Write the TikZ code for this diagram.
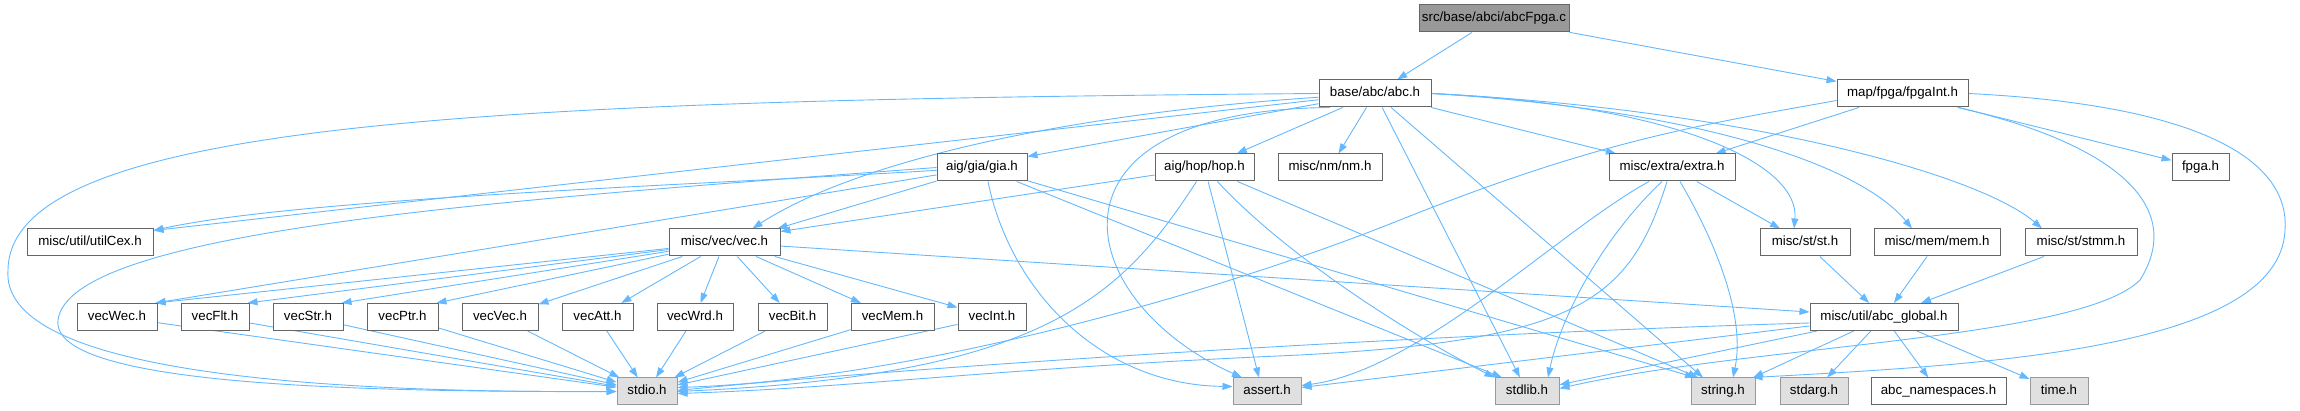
\documentclass[tikz,border=0pt]{standalone}
\usepackage{fontspec}
\setmainfont{Liberation Sans}
\usetikzlibrary{arrows.meta,backgrounds}
\definecolor{edgeblue}{HTML}{63B8FF}
\definecolor{boxline}{HTML}{666666}
\definecolor{rootfill}{HTML}{999999}
\definecolor{sysfill}{HTML}{E0E0E0}
\definecolor{sysline}{HTML}{999999}
\tikzset{
  hdr/.style={draw=boxline,fill=white,line width=1pt,minimum height=27,inner sep=0pt,
    text height=10pt,text depth=3pt,font=\fontsize{13.3}{16}\selectfont},
  syshdr/.style={hdr,draw=sysline,fill=sysfill},
  roothdr/.style={hdr,fill=rootfill},
  inc/.style={draw=edgeblue,line width=0.9pt,-{Triangle[length=10pt,width=7pt]}},
}

\begin{document}
\begin{tikzpicture}[x=1pt,y=-1pt]
\useasboundingbox (0,0) rectangle (2300,411);
% include graph of abcFpga.c, one row per rank
\node[roothdr,minimum width=150] (root) at (1494,18.5) {src/base/abci/abcFpga.c};
\node[hdr,minimum width=112] (abc) at (1375,93.5) {base/abc/abc.h};
\node[hdr,minimum width=131] (fpgaint) at (1902.5,93.5) {map/fpga/fpgaInt.h};
\node[hdr,minimum width=90] (gia) at (982,167.5) {aig/gia/gia.h};
\node[hdr,minimum width=99] (hop) at (1204.5,167.5) {aig/hop/hop.h};
\node[hdr,minimum width=104] (nm) at (1330,167.5) {misc/nm/nm.h};
\node[hdr,minimum width=126] (extra) at (1672,167.5) {misc/extra/extra.h};
\node[hdr,minimum width=57] (fpga) at (2200.5,167.5) {fpga.h};
\node[hdr,minimum width=126] (utilcex) at (90,242.5) {misc/util/utilCex.h};
\node[hdr,minimum width=111] (vec) at (724.5,242.5) {misc/vec/vec.h};
\node[hdr,minimum width=90] (st) at (1805,242.5) {misc/st/st.h};
\node[hdr,minimum width=126] (mem) at (1937,242.5) {misc/mem/mem.h};
\node[hdr,minimum width=112] (stmm) at (2081,242.5) {misc/st/stmm.h};
% vec family
\node[hdr,minimum width=80] (vecwec) at (117,317) {vecWec.h};
\node[hdr,minimum width=68] (vecflt) at (215,317) {vecFlt.h};
\node[hdr,minimum width=70] (vecstr) at (308,317) {vecStr.h};
\node[hdr,minimum width=71] (vecptr) at (402.5,317) {vecPtr.h};
\node[hdr,minimum width=76] (vecvec) at (500,317) {vecVec.h};
\node[hdr,minimum width=71] (vecatt) at (597.5,317) {vecAtt.h};
\node[hdr,minimum width=76] (vecwrd) at (695,317) {vecWrd.h};
\node[hdr,minimum width=69] (vecbit) at (792.5,317) {vecBit.h};
\node[hdr,minimum width=83] (vecmem) at (892.5,317) {vecMem.h};
\node[hdr,minimum width=68] (vecint) at (992,317) {vecInt.h};
\node[hdr,minimum width=148] (abcglobal) at (1884,317) {misc/util/abc\_global.h};
% system headers
\node[syshdr,minimum width=60] (stdio) at (647,391.5) {stdio.h};
\node[syshdr,minimum width=68] (assert) at (1267,391.5) {assert.h};
\node[syshdr,minimum width=64] (stdlib) at (1527,391.5) {stdlib.h};
\node[syshdr,minimum width=64] (string) at (1723,391.5) {string.h};
\node[syshdr,minimum width=68] (stdarg) at (1814,391.5) {stdarg.h};
\node[hdr,minimum width=135] (abcns) at (1938.5,391.5) {abc\_namespaces.h};
\node[syshdr,minimum width=58] (time) at (2059,391.5) {time.h};

\begin{scope}[on background layer]
% from the source file
\draw[inc] (root) -- (abc);
\draw[inc] (root) -- (fpgaint);
% abc.h
\draw[inc] (abc) -- ([yshift=-2]utilcex.north east);
\draw[inc] (abc.west) .. controls (500,100) and (10,120) .. (8,270) .. controls (0,370) and (300,393) .. (stdio.west);
\draw[inc] (abc) .. controls (1050,115) and (850,165) .. ([xshift=28]vec.north);
\draw[inc] (abc) -- ([yshift=-3]gia.north east);
\draw[inc] (abc) -- (hop);
\draw[inc] (abc) -- (nm);
\draw[inc] ([xshift=-45]abc.south) .. controls (1030,110) and (1070,300) .. ([xshift=-25]assert.north);
\draw[inc] (abc) -- (stdlib);
\draw[inc] (abc) -- ([xshift=-20]string.north);
\draw[inc] (abc) -- (extra);
\draw[inc] (abc.east) .. controls (1680,105) and (1800,165) .. ([xshift=-11]st.north);
\draw[inc] (abc.east) .. controls (1700,110) and (1860,165) .. ([xshift=-25]mem.north);
\draw[inc] (abc.east) .. controls (1750,110) and (1980,175) .. ([xshift=-39]stmm.north);
% fpgaInt.h
\draw[inc] ([yshift=-7]fpgaint.west) .. controls (1700,125) and (1600,140) .. (1400,220) .. controls (1200,300) and (900,380) .. ([yshift=4]stdio.east);
\draw[inc] (fpgaint) -- (extra);
\draw[inc] (fpgaint) -- (fpga);
\draw[inc] ([xshift=55]fpgaint.south) .. controls (2100,140) and (2190,200) .. (2140,280) .. controls (2080,340) and (1750,345) .. ([yshift=3]stdlib.east);
\draw[inc] (fpgaint.east) .. controls (2200,105) and (2290,160) .. (2285,230) .. controls (2280,350) and (1980,365) .. ([xshift=-3]string.north east);
% gia.h
\draw[inc] (gia) .. controls (700,185) and (300,198) .. ([yshift=-2]utilcex.north east);
\draw[inc] (gia) -- ([xshift=-2]vecwec.north east);
\draw[inc] (gia.west) .. controls (500,200) and (70,230) .. (58,320) .. controls (50,385) and (350,392) .. (stdio.west);
\draw[inc] (gia) -- ([xshift=53]vec.north);
\draw[inc] ([xshift=6]gia.south) .. controls (1010,290) and (1100,385) .. ([yshift=5]assert.west);
\draw[inc] (gia) -- ([xshift=-25]stdlib.north);
\draw[inc] (gia) -- ([xshift=-28]string.north);
% hop.h
\draw[inc] (hop) -- ([yshift=-3]vec.north east);
\draw[inc] ([xshift=-8]hop.south) .. controls (1120,300) and (1040,375) .. (stdio.east);
\draw[inc] (hop) -- ([xshift=-8]assert.north);
\draw[inc] (hop) .. controls (1290,260) and (1420,340) .. (stdlib.north west);
\draw[inc] (hop) -- ([xshift=-25]string.north);
% extra.h
\draw[inc] ([xshift=-5]extra.south) .. controls (1630,300) and (1580,340) .. (1300,355) .. controls (1000,368) and (850,388) .. ([yshift=-2]stdio.east);
\draw[inc] ([xshift=-23]extra.south) .. controls (1560,230) and (1420,370) .. ([yshift=6]assert.east);
\draw[inc] ([xshift=-10]extra.south) .. controls (1600,240) and (1560,320) .. ([xshift=21]stdlib.north);
\draw[inc] ([xshift=8]extra.south) .. controls (1720,250) and (1745,320) .. ([xshift=10]string.north);
\draw[inc] (extra) -- ([xshift=-25]st.north);
% vec.h
\draw[inc] (vec) -- ([xshift=-2]vecwec.north east);
\draw[inc] (vec) -- ([xshift=-2]vecflt.north east);
\draw[inc] (vec) -- ([xshift=-2]vecstr.north east);
\draw[inc] (vec) -- ([xshift=-2]vecptr.north east);
\draw[inc] (vec) -- (vecvec);
\draw[inc] (vec) -- (vecatt);
\draw[inc] (vec) -- (vecwrd);
\draw[inc] (vec) -- (vecbit);
\draw[inc] (vec) -- (vecmem);
\draw[inc] (vec) -- (vecint);
\draw[inc] (vec) -- ([yshift=5]abcglobal.west);
% vec family -> stdio.h
\draw[inc] (vecwec) -- (stdio);
\draw[inc] (vecflt) -- (stdio);
\draw[inc] (vecstr) -- (stdio);
\draw[inc] (vecptr) -- (stdio);
\draw[inc] (vecvec) -- (stdio);
\draw[inc] (vecatt) -- (stdio);
\draw[inc] (vecwrd) -- (stdio);
\draw[inc] (vecbit) -- (stdio);
\draw[inc] (vecmem) -- (stdio);
\draw[inc] (vecint) -- (stdio);
% st.h, mem.h, stmm.h
\draw[inc] (st) -- (abcglobal);
\draw[inc] (mem) -- (abcglobal);
\draw[inc] (stmm) -- (abcglobal);
% abc_global.h
\draw[inc] ([yshift=-6]abcglobal.west) .. controls (1400,335) and (900,368) .. ([yshift=1]stdio.east);
\draw[inc] (abcglobal) -- ([yshift=4]assert.east);
\draw[inc] (abcglobal) -- (stdlib);
\draw[inc] (abcglobal) -- (string);
\draw[inc] (abcglobal) -- (stdarg);
\draw[inc] (abcglobal) -- (abcns);
\draw[inc] (abcglobal) -- (time);
\end{scope}
\end{tikzpicture}
\end{document}
